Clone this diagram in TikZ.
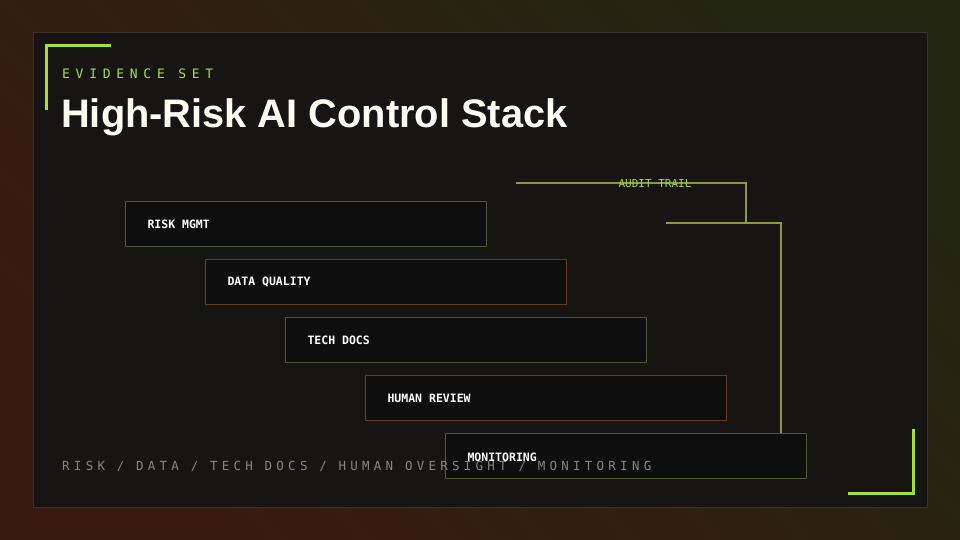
\documentclass[tikz,border=0pt]{standalone}
\usepackage{fontspec}
\setmainfont{Liberation Sans}
\newfontfamily\monof{DejaVu Sans Mono}
\definecolor{bgA}{HTML}{3A1A10}
\definecolor{bgB}{HTML}{222612}
\definecolor{panel}{HTML}{161514}
\definecolor{panelline}{HTML}{34342A}
\definecolor{lime}{HTML}{A8E030}
\definecolor{olive}{HTML}{8A9A3C}
\definecolor{gbord}{HTML}{4A5A28}
\definecolor{obord}{HTML}{6A3A1E}
\definecolor{boxfill}{HTML}{0E0E0E}
\definecolor{foot}{HTML}{85857C}
\begin{document}
\begin{tikzpicture}[x=1pt,y=-1pt,
  stage/.style={draw=#1,line width=1pt,fill=boxfill,minimum width=361pt,minimum height=45pt,anchor=north west,inner sep=0pt},
  lab/.style={font=\monof\bfseries\fontsize{11.5}{13}\selectfont,text=white,anchor=west},
  audit/.style={draw=olive,line width=1.5pt}]
\useasboundingbox (0,0) rectangle (960,540);
\shade[left color=bgA,right color=bgB,shading angle=135] (0,0) rectangle (960,540);
\draw[panelline,fill=panel,line width=1pt] (33,33) rectangle (927,507);
\draw[lime,line width=3pt] (46,110) -- (46,46) -- (111,46);
\draw[lime,line width=3pt] (913,429) -- (913,493) -- (848,493);
\node[anchor=base west,inner sep=0,text=lime,font=\monof\fontsize{13}{15}\selectfont\addfontfeature{LetterSpace=44}] (ev) at (62,79) {EVIDENCE SET};
\node[anchor=base west,inner sep=0,text=white!95!yellow,font=\bfseries\fontsize{39.8}{46}\selectfont] (title) at (61,128) {High-Risk AI Control Stack};
\node[stage=gbord] (s1) at (125,201) {};
\node[stage=obord] (s2) at (205,259) {};
\node[stage=gbord] (s3) at (285,317) {};
\node[stage=obord] (s4) at (365,375) {};
\node[stage=gbord] (s5) at (445,433) {};
\node[lab] at ([xshift=19pt]s1.west) {RISK MGMT};
\node[lab] at ([xshift=19pt]s2.west) {DATA QUALITY};
\node[lab] at ([xshift=19pt]s3.west) {TECH DOCS};
\node[lab] at ([xshift=19pt]s4.west) {HUMAN REVIEW};
\node[anchor=base west,inner sep=0,text=foot,font=\monof\fontsize{12.5}{15}\selectfont\addfontfeature{LetterSpace=34}] (ft) at (62,470) {RISK~/~DATA~/~TECH~DOCS~/~HUMAN~OVERSIGHT~/~MONITORING};
\node[lab] at ([xshift=19pt,yshift=-1pt]s5.west) {MONITORING};
\coordinate (a0) at (516,183);
\coordinate (a1) at (746,183);
\coordinate (a2) at (746,223);
\coordinate (b0) at (666,223);
\coordinate (b1) at (781,223);
\draw[audit] (a0) -- (a1) -- (a2);
\draw[audit] (b0) -- (b1) -- (b1 |- s5.north);
\node[text=lime!85!olive,font=\monof\fontsize{11}{13}\selectfont,inner sep=0] (at) at (655,184) {AUDIT TRAIL};
\end{tikzpicture}
\end{document}
